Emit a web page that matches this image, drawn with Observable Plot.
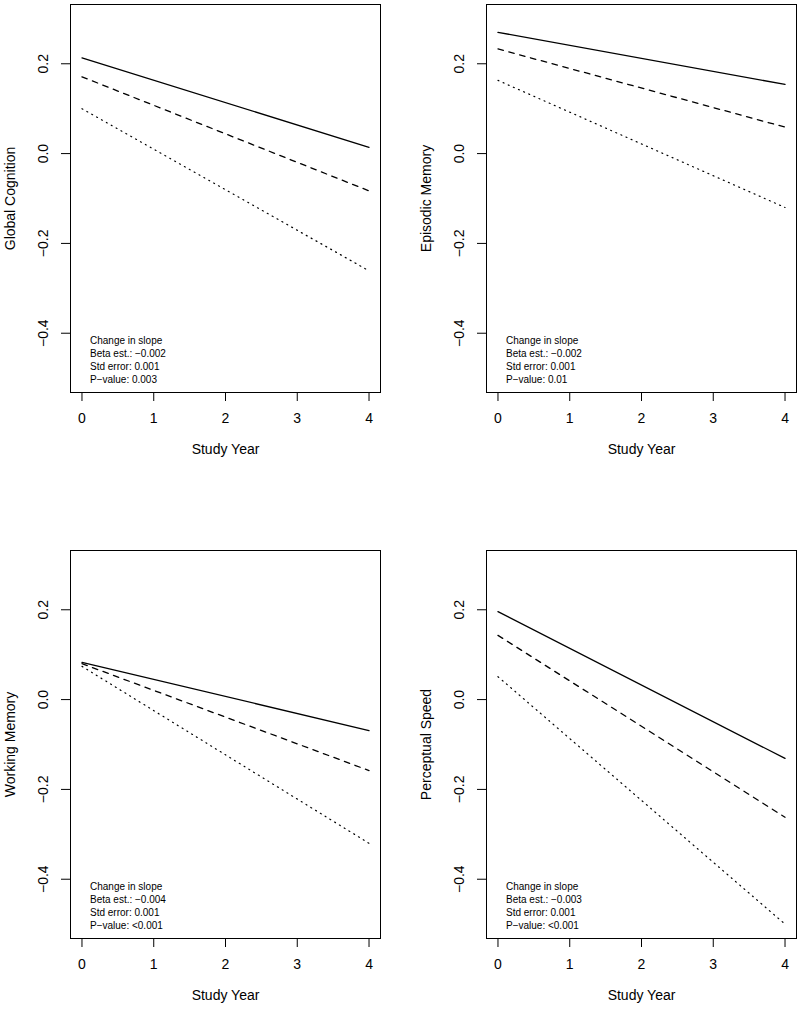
<!DOCTYPE html>
<html><head><meta charset="utf-8">
<script src="https://cdn.jsdelivr.net/npm/d3@7"></script>
<script src="https://cdn.jsdelivr.net/npm/@observablehq/plot@0.6"></script>
<style>
html,body{margin:0;padding:0;background:#fff;overflow:hidden;}
#wrap{position:relative;width:800px;height:1011px;background:#fff;}
#wrap svg{position:absolute;}
</style></head><body><div id="wrap"></div>
<script>
// ---- data ----
const years = [0, 4];
const outcomes = ["Global Cognition", "Episodic Memory", "Working Memory", "Perceptual Speed"];
// predicted trajectories (value at year 0, value at year 4) per outcome
const solidSeries  = [[0.213, 0.014], [0.270, 0.154], [0.083, -0.069], [0.196, -0.131]];
const dashedSeries = [[0.171, -0.083], [0.233, 0.059], [0.080, -0.158], [0.143, -0.262]];
const dottedSeries = [[0.100, -0.261], [0.163, -0.120], [0.074, -0.320], [0.051, -0.500]];
const betaEst = ["−0.002", "−0.002", "−0.004", "−0.003"];
const stdErr  = ["0.001", "0.001", "0.001", "0.001"];
const pValue  = ["0.003", "0.01", "<0.001", "<0.001"];
const xTicks = [0, 1, 2, 3, 4];
const yTicks = [-0.4, -0.2, 0.0, 0.2];
const xLabel = "Study Year";

// ---- layout ----
const panelPos = [[0, 0], [416, 0], [0, 546], [416, 546]];
const W = 384, H = 465;
const fmtY = d3.format(".1f");
const wrap = document.getElementById("wrap");

const styles = [
  {series: solidSeries, dash: null, w: 1.3},
  {series: dashedSeries, dash: "5.6,5.6", w: 1.3},
  {series: dottedSeries, dash: "1,4.6", w: 1.2}
];

outcomes.forEach((name, i) => {
  const lines = styles.map(s => Plot.lineY(
    years.map((yr, j) => ({year: yr, value: s.series[i][j]})),
    {x: "year", y: "value", stroke: "#000", strokeWidth: s.w, strokeDasharray: s.dash}
  ));
  const note = ["Change in slope", "Beta est.: " + betaEst[i], "Std error: " + stdErr[i], "P−value: " + pValue[i]].join("\n");
  const svg = Plot.plot({
    width: W, height: H,
    marginLeft: 70, marginRight: 4, marginTop: 4, marginBottom: 73,
    x: {domain: [-0.16, 4.16]},
    y: {domain: [-0.532, 0.332]},
    style: {fontFamily: "'Liberation Sans', Arial, Helvetica, sans-serif", fontSize: "14px", color: "#000", background: "#fff", overflow: "visible"},
    marks: [
      Plot.frame({stroke: "#000", strokeWidth: 1}),
      ...lines,
      Plot.axisX({ticks: xTicks, tickSize: 9, tickPadding: 12, tickFormat: d3.format("d"), fontSize: 14, label: null}),
      Plot.axisY({ticks: yTicks, tickSize: 9, tickFormat: () => "", label: null}),
      Plot.text(yTicks, {y: d => d, text: d => fmtY(d), frameAnchor: "left", textAnchor: "middle", dx: -27, rotate: -90, fontSize: 14}),
      Plot.text([name], {text: d => d, frameAnchor: "left", textAnchor: "middle", dx: -60, rotate: -90, fontSize: 14}),
      Plot.text([xLabel], {text: d => d, frameAnchor: "bottom", textAnchor: "middle", dy: 61, fontSize: 14}),
      Plot.text([note], {text: d => d, frameAnchor: "bottom-left", dx: 19.5, dy: -9.7, lineAnchor: "bottom", textAnchor: "start", lineHeight: 1.3, fontSize: 10})
    ]
  });
  svg.style.left = panelPos[i][0] + "px";
  svg.style.top = panelPos[i][1] + "px";
  wrap.appendChild(svg);
});
</script></body></html>
